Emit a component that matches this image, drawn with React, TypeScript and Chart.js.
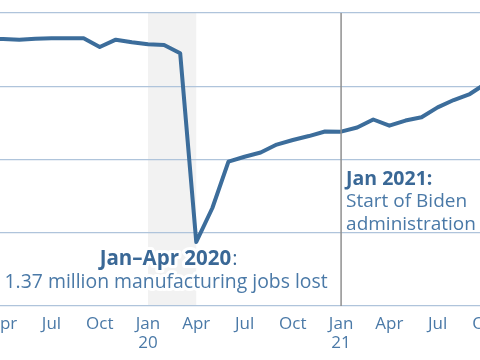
import React, { useEffect, useRef } from 'react';
import { Chart, registerables } from 'chart.js';

Chart.register(...registerables);

// ---- Data ----
const months: string[] = [
  '2019-03', '2019-04', '2019-05', '2019-06', '2019-07', '2019-08', '2019-09', '2019-10', '2019-11', '2019-12',
  '2020-01', '2020-02', '2020-03', '2020-04', '2020-05', '2020-06', '2020-07', '2020-08', '2020-09', '2020-10', '2020-11', '2020-12',
  '2021-01', '2021-02', '2021-03', '2021-04', '2021-05', '2021-06', '2021-07', '2021-08', '2021-09', '2021-10',
];
// Manufacturing employment, millions
const jobsMillions: number[] = [
  12.823, 12.823, 12.818, 12.825, 12.827, 12.827, 12.827, 12.768, 12.818, 12.800,
  12.786, 12.782, 12.725, 11.437, 11.669, 11.985, 12.019, 12.048, 12.102, 12.133, 12.160, 12.191,
  12.190, 12.218, 12.273, 12.231, 12.266, 12.288, 12.356, 12.406, 12.447, 12.519,
];
const axisStartMonth = '2019-02';
const axisEndMonth = '2021-11';
const quarterNames: Record<number, string> = { 0: 'Jan', 3: 'Apr', 6: 'Jul', 9: 'Oct' };
const yMin = 11;
const yMax = 13;
const yStep = 0.5;

const shadeStart = '2020-01';
const shadeEnd = '2020-04';
const markerMonth = '2021-01';
const covidTitle = 'Jan–Apr 2020';
const covidBody = '1.37 million manufacturing jobs lost';
const bidenTitle = 'Jan 2021:';
const bidenBody = ['Start of Biden', 'administration'];

// month string -> months since Jan 2020
const toIdx = (m: string) => {
  const [y, mo] = m.split('-').map(Number);
  return (y - 2020) * 12 + (mo - 1);
};

const LINE = '#3c6d9b';
const TEXT = '#4a79a7';
const TITLE = '#3a6896';
const GRID = '#afc4db';
const FONT = '"Open Sans", sans-serif';

const annotationPlugin = {
  id: 'annotations',
  beforeDraw(chart: any) {
    const { ctx, chartArea, scales } = chart;
    const x0 = scales.x.getPixelForValue(toIdx(shadeStart));
    const x1 = scales.x.getPixelForValue(toIdx(shadeEnd));
    ctx.save();
    ctx.fillStyle = '#f2f2f2';
    ctx.fillRect(x0, chartArea.top, x1 - x0, chartArea.bottom - chartArea.top);
    ctx.restore();
  },
  afterDatasetsDraw(chart: any) {
    const { ctx, chartArea, scales } = chart;
    const xm = scales.x.getPixelForValue(toIdx(markerMonth));
    ctx.save();
    ctx.strokeStyle = '#8f8f8f';
    ctx.lineWidth = 1.5;
    ctx.beginPath();
    ctx.moveTo(xm, chartArea.top);
    ctx.lineTo(xm, chartArea.bottom);
    ctx.stroke();

    const halo = (text: string, x: number, y: number, color: string, w = 6) => {
      ctx.lineJoin = 'round';
      ctx.lineWidth = w;
      ctx.strokeStyle = '#ffffff';
      ctx.strokeText(text, x, y);
      ctx.fillStyle = color;
      ctx.fillText(text, x, y);
    };

    ctx.textBaseline = 'alphabetic';
    // Covid note, centred
    const cx = scales.x.getPixelForValue(toIdx('2020-02')) + 2;
    ctx.font = `bold 20.5px ${FONT}`;
    const wTitle = ctx.measureText(covidTitle).width;
    ctx.font = `20px ${FONT}`;
    const wColon = ctx.measureText(':').width;
    const startX = cx - (wTitle + wColon) / 2 + 2;
    ctx.textAlign = 'left';
    ctx.font = `bold 20.5px ${FONT}`;
    halo(covidTitle, startX, chartArea.bottom - 41, TITLE);
    ctx.font = `20px ${FONT}`;
    halo(':', startX + wTitle + 1, chartArea.bottom - 41, TITLE);
    ctx.textAlign = 'center';
    ctx.font = `19.4px ${FONT}`;
    halo(covidBody, cx, chartArea.bottom - 18, TEXT);

    // Biden note
    ctx.textAlign = 'left';
    const bx = xm + 5;
    ctx.font = `bold 19.5px ${FONT}`;
    halo(bidenTitle, bx, chartArea.top + 172, TITLE, 4);
    ctx.font = `19px ${FONT}`;
    bidenBody.forEach((t, i) => halo(t, bx, chartArea.top + 194 + i * 23, TEXT, 3));
    ctx.restore();
  },
};

export default function App() {
  const ref = useRef<HTMLCanvasElement>(null);
  useEffect(() => {
    if (!ref.current) return;
    const chart = new Chart(ref.current, {
      type: 'line',
      data: {
        datasets: [
          {
            data: months.map((m, i) => ({ x: toIdx(m), y: jobsMillions[i] })),
            borderColor: LINE,
            borderWidth: 4,
            pointRadius: 0,
            tension: 0,
            borderJoinStyle: 'round',
          },
        ],
      },
      options: {
        responsive: false,
        animation: false,
        layout: { padding: { top: 13, left: 0, right: 0, bottom: 0 } },
        plugins: { legend: { display: false }, tooltip: { enabled: false } },
        scales: {
          x: {
            type: 'linear',
            min: toIdx(axisStartMonth),
            max: toIdx(axisEndMonth),
            grid: { display: false, drawTicks: false },
            border: { display: false },
            afterFit: (s: any) => {
              s.height = 54;
              s.paddingLeft = 0;
              s.paddingRight = 0;
            },
            ticks: {
              stepSize: 1,
              autoSkip: false,
              maxRotation: 0,
              padding: 8,
              color: TEXT,
              font: { family: FONT, size: 17, lineHeight: 1.15 },
              callback: (v: any) => {
                const n = Number(v);
                const mo = ((n % 12) + 12) % 12;
                const name = quarterNames[mo];
                if (!name) return '';
                if (mo === 0) return [name, String(20 + Math.floor(n / 12))];
                return name;
              },
            },
          },
          y: {
            min: yMin,
            max: yMax,
            grid: { color: GRID, lineWidth: 1.3, drawTicks: false },
            border: { display: false },
            afterFit: (s: any) => {
              s.width = 0;
              s.paddingTop = 0;
              s.paddingBottom = 0;
            },
            ticks: { display: false, stepSize: yStep },
          },
        },
      },
      plugins: [annotationPlugin],
    });
    return () => chart.destroy();
  }, []);

  return (
    <div style={{ position: 'fixed', left: 0, top: 0, width: 480, height: 360, overflow: 'hidden', background: '#fff' }}>
      <canvas ref={ref} width={531} height={360} style={{ position: 'absolute', left: -29, top: 0, display: 'block' }} />
    </div>
  );
}
